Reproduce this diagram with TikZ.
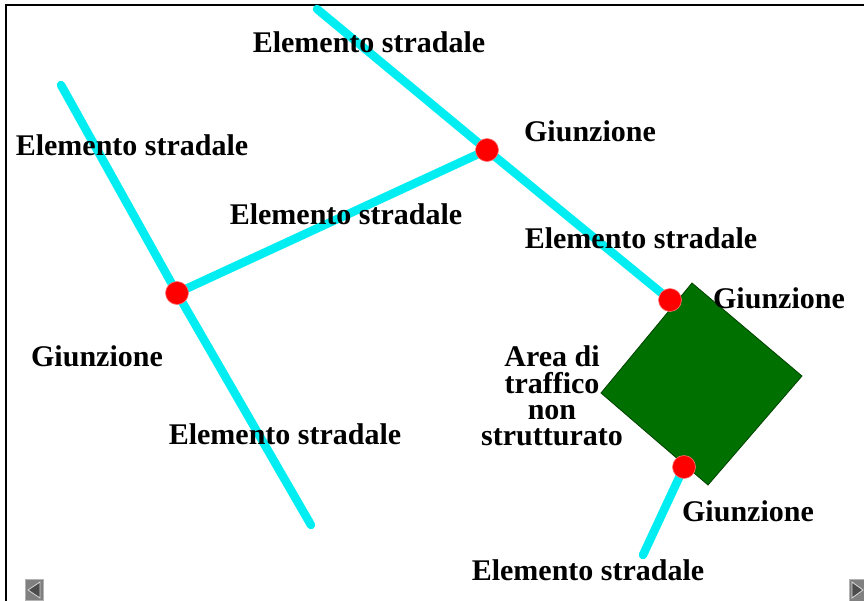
\documentclass[tikz,border=0pt]{standalone}
\usepackage{fontspec}
\setmainfont{Liberation Serif}
\usetikzlibrary{positioning}
\definecolor{roadcyan}{RGB}{0,238,242}
\definecolor{areagreen}{RGB}{0,112,0}
\definecolor{dotred}{RGB}{255,0,0}
\definecolor{navgray}{RGB}{128,128,128}

\begin{document}
\begin{tikzpicture}[x=0.5pt,y=-0.5pt,
  road/.style={draw=roadcyan,line width=4.25pt,line cap=round},
  junction/.style={circle,fill=dotred,draw=dotred!55!white,line width=0.3pt,minimum size=11.5pt,inner sep=0pt},
  lbl/.style={font=\fontsize{15}{13.2}\selectfont\bfseries,inner sep=0pt,anchor=base},
  navbtn/.style={fill=navgray,draw=navgray!60!white,line width=0.4pt}]
  \useasboundingbox (0,0) rectangle (864,601);
  % frame
  \draw[line width=1pt] (6,601) -- (6,5) -- (864,5);
  % junctions and road ends
  \coordinate (jTop) at (487,150);
  \coordinate (jLeft) at (177,293);
  \coordinate (jAreaTop) at (670,300);
  \coordinate (jAreaBot) at (684,467);
  \coordinate (endA) at (61,85);
  \coordinate (endB) at (311,525);
  \coordinate (endC) at (317,9);
  \coordinate (endD) at (643,555);
  % unstructured traffic area
  \path[fill=areagreen,draw=areagreen!60!black,line width=0.4pt]
    (692,283) -- (802,376) -- (708,485) -- (601,393) -- cycle;
  % road elements
  \draw[road] (endA) -- (jLeft) -- (endB);
  \draw[road] (endC) -- (jTop) -- (jAreaTop);
  \draw[road] (jLeft) -- (jTop);
  \draw[road] (jAreaBot) -- (endD);
  \node[junction] (dTop) at (jTop) {};
  \node[junction] (dLeft) at (jLeft) {};
  \node[junction] (dAreaTop) at (jAreaTop) {};
  \node[junction] (dAreaBot) at (jAreaBot) {};
  % labels
  \node[lbl] (eTop) at (369,52) {Elemento stradale};
  \node[lbl] (eLeft) at (132,155) {Elemento stradale};
  \node[lbl] (eMid) at (346,224) {Elemento stradale};
  \node[lbl] (eRight) at (641,248) {Elemento stradale};
  \node[lbl] (eLow) at (285,444) {Elemento stradale};
  \node[lbl] (eBot) at (588,580) {Elemento stradale};
  \node[lbl] (gTop) at (590,141) {Giunzione};
  \node[lbl] (gRight) at (779,308) {Giunzione};
  \node[lbl] (gLeft) at (97,366) {Giunzione};
  \node[lbl] (gBot) at (748,521) {Giunzione};
  \node[lbl,anchor=center,align=center] (area) at (552,396)
    {Area di\\traffico\\non\\strutturato};
  % navigation buttons
  \path[navbtn] (25,579) rectangle (43,600);
  \path[fill=black!70,draw=white!85!black,line width=0.4pt] (28,590) -- (40,582) -- (40,598) -- cycle;
  \path[navbtn] (849,579) rectangle (866,601);
  \path[fill=black!70,draw=white!85!black,line width=0.4pt] (863,590) -- (852,582) -- (852,598) -- cycle;
\end{tikzpicture}
\end{document}
